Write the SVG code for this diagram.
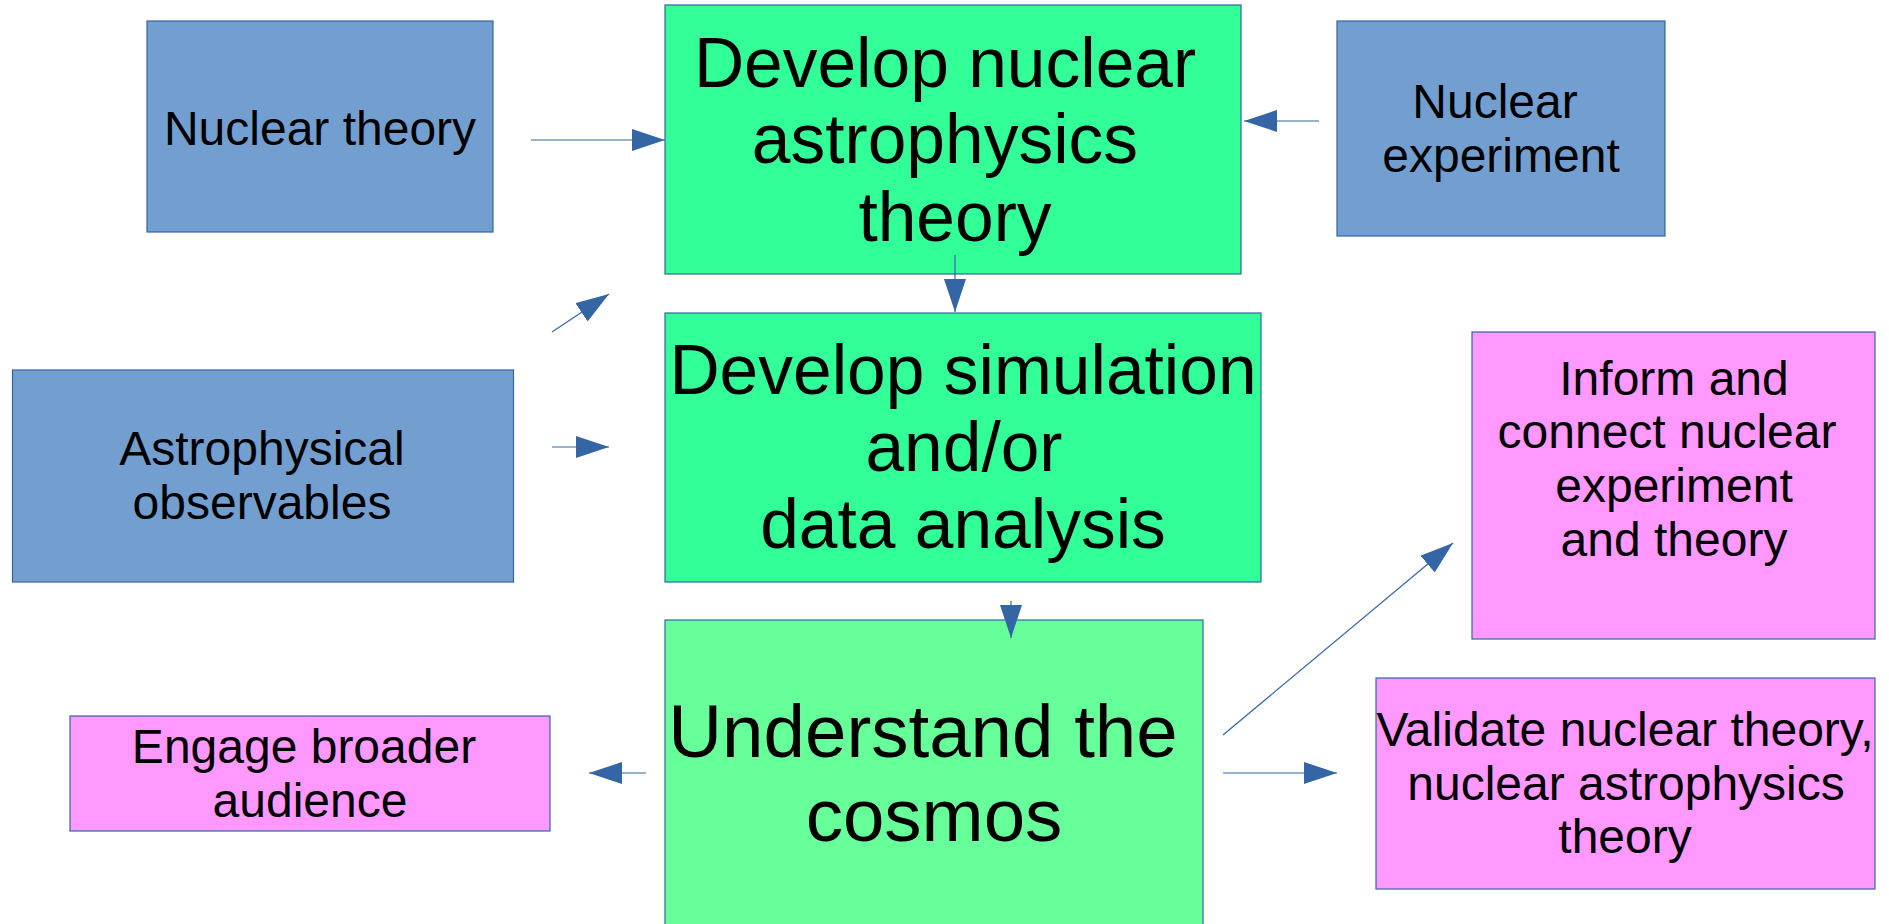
<svg xmlns="http://www.w3.org/2000/svg" width="1889" height="924" viewBox="0 0 1889 924">
<style>
  .blue { fill: #729fcf; stroke: #3465a4; stroke-width: 1.2; }
  .green { fill: #33ff99; stroke: #3465a4; stroke-width: 1.2; }
  .green2 { fill: #66ff99; stroke: #3465a4; stroke-width: 1.2; }
  .pink { fill: #ff99ff; stroke: #3465a4; stroke-width: 1.2; }
  text { font-family: "Liberation Sans", Arial, sans-serif; fill: #000; text-anchor: middle; }
  .s { font-size: 48px; }
  .m { font-size: 69.5px; }
  .l { font-size: 74.5px; }
  .conn { stroke: #3465a4; stroke-width: 1.2; fill: none; marker-end: url(#arr); }
</style>
<defs>
  <marker id="arr" markerUnits="userSpaceOnUse" markerWidth="34" markerHeight="23" refX="33" refY="11" orient="auto" viewBox="0 0 34 23">
    <path d="M0,0 L33,11 L0,22 Z" fill="#3465a4"/>
  </marker>
</defs>
<rect width="1889" height="924" fill="#ffffff"/>

<g id="nuclear-theory">
  <rect class="blue" x="147" y="21" width="346" height="211"/>
  <text class="s" x="320" y="145">Nuclear theory</text>
</g>

<g id="develop-nuclear-astrophysics-theory">
  <rect class="green" x="665" y="5" width="576" height="269"/>
  <text class="m" x="945" y="87">Develop nuclear</text>
  <text class="m" x="945" y="163">astrophysics</text>
  <text class="m" x="955" y="241">theory</text>
</g>

<g id="nuclear-experiment">
  <rect class="blue" x="1337" y="21" width="328" height="215"/>
  <text class="s" x="1495" y="118">Nuclear</text>
  <text class="s" x="1501" y="172">experiment</text>
</g>

<g id="astrophysical-observables">
  <rect class="blue" x="12.5" y="370" width="501" height="212"/>
  <text class="s" x="262" y="465">Astrophysical</text>
  <text class="s" x="262" y="519">observables</text>
</g>

<g id="develop-simulation">
  <rect class="green" x="665" y="313" width="596" height="269"/>
  <text class="m" x="963" y="394">Develop simulation</text>
  <text class="m" x="964" y="471">and/or</text>
  <text class="m" x="963" y="548">data analysis</text>
</g>

<g id="inform-connect">
  <rect class="pink" x="1472" y="332" width="403" height="307"/>
  <text class="s" x="1674" y="395">Inform and</text>
  <text class="s" x="1667" y="448">connect nuclear</text>
  <text class="s" x="1674" y="502">experiment</text>
  <text class="s" x="1674" y="556">and theory</text>
</g>

<g id="understand-cosmos">
  <rect class="green2" x="665" y="620" width="538" height="320"/>
  <text class="l" x="923" y="757">Understand the</text>
  <text class="l" x="934" y="841">cosmos</text>
</g>

<g id="engage-audience">
  <rect class="pink" x="70" y="716" width="480" height="115"/>
  <text class="s" x="304" y="763">Engage broader</text>
  <text class="s" x="310" y="817">audience</text>
</g>

<g id="validate">
  <rect class="pink" x="1376" y="678" width="499" height="211"/>
  <text class="s" x="1625" y="746">Validate nuclear theory,</text>
  <text class="s" x="1626" y="800">nuclear astrophysics</text>
  <text class="s" x="1625" y="853">theory</text>
</g>

<g id="connectors">
  <line class="conn" x1="531" y1="140" x2="665" y2="140"/>
  <line class="conn" x1="1319" y1="121" x2="1244" y2="121"/>
  <line class="conn" x1="955" y1="255" x2="955" y2="312"/>
  <line class="conn" x1="552" y1="332" x2="609" y2="294"/>
  <line class="conn" x1="552" y1="447" x2="609" y2="447"/>
  <line class="conn" x1="1011" y1="601" x2="1011" y2="638"/>
  <line class="conn" x1="646" y1="773" x2="589" y2="773"/>
  <line class="conn" x1="1223" y1="773" x2="1337" y2="773"/>
  <line class="conn" x1="1223" y1="735" x2="1453" y2="543"/>
</g>
</svg>
